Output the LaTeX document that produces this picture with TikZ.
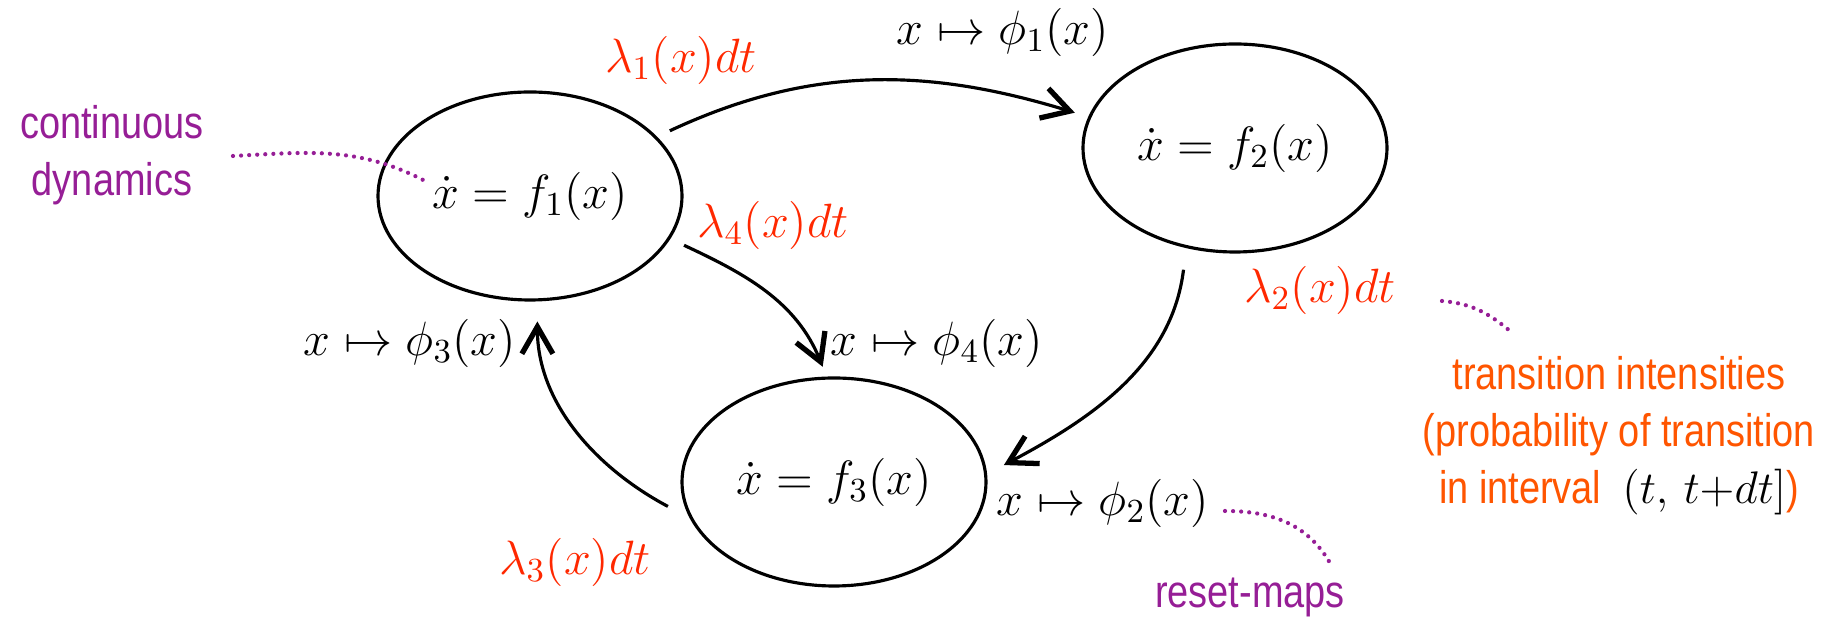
\RequirePackage{fix-cm}
\documentclass[tikz,border=0pt]{standalone}
\usepackage{fontspec}
\newfontfamily\notesans[FakeStretch=0.83]{Liberation Sans}
\usetikzlibrary{arrows.meta,shapes.geometric}
\definecolor{ratered}{RGB}{255,40,0}
\definecolor{noteorange}{RGB}{255,85,0}
\definecolor{notepurple}{RGB}{150,30,150}

\begin{document}
\begin{tikzpicture}[font=\fontsize{13.7}{16}\selectfont,
  mode/.style={draw,ellipse,line width=0.9pt,minimum width=3.04cm,minimum height=2.08cm,inner sep=0pt},
  trans/.style={line width=0.9pt,-{Straight Barb[length=2.7mm,width=3.1mm,line width=1.5pt]}},
  rate/.style={text=ratered},
  note/.style={font=\notesans\fontsize{13}{16.2}\selectfont,align=center},
  lead/.style={notepurple,line width=1.2pt,line cap=round,dash pattern=on 0pt off 2.3pt}]
\useasboundingbox (0,0) rectangle (18.35,6.21);
% the three modes
\node[mode] (e1) at (5.30,4.25) {$\dot x = f_1(x)$};
\node[mode] (e2) at (12.35,4.73) {$\dot x = f_2(x)$};
\node[mode] (e3) at (8.34,1.39) {$\dot x = f_3(x)$};
% jumps between modes
\draw[trans,shorten <=4pt,shorten >=4pt] (e1.25) to[out=25,in=163] (e2.168);
\draw[trans,shorten <=4.3pt,shorten >=3pt] (e1.-17) to[out=-25,in=112] (e3.94);
\draw[trans,shorten <=6.2pt,shorten >=5.4pt] (e2.-116) to[out=-97,in=28] (e3.3);
\draw[trans,shorten <=7pt,shorten >=5.7pt] (e3.194) to[out=152,in=-90] (e1.-86);
% reset maps and rates
\node (phi1) at (10.03,5.89) {$x\mapsto\phi_1(x)$};
\node (phi2) at (11.03,1.18) {$x\mapsto\phi_2(x)$};
\node (phi3) at (4.10,2.78) {$x\mapsto\phi_3(x)$};
\node (phi4) at (9.37,2.78) {$x\mapsto\phi_4(x)$};
\node[rate] (lam1) at (6.81,5.61) {$\lambda_1(x)dt$};
\node[rate] (lam2) at (13.20,3.31) {$\lambda_2(x)dt$};
\node[rate] (lam3) at (5.75,0.59) {$\lambda_3(x)dt$};
\node[rate] (lam4) at (7.73,3.96) {$\lambda_4(x)dt$};
% side notes
\node[note,text=notepurple] (dyn) at (1.12,4.66) {continuous\\dynamics};
\node[note,text=notepurple,anchor=base] (rst) at (12.50,0.13) {reset-maps};
\node[note,text=noteorange] (intens) at (16.19,1.855) {transition intensities\\(probability of transition\\in interval\ \ {\color{black}$(t,\,t{+}dt]$})};
\coordinate (dyn0) at (2.33,4.65);
\coordinate (dyn1) at (4.27,4.39);
\coordinate (rst0) at (12.25,1.10);
\coordinate (rst1) at (13.30,0.58);
\coordinate (lam0) at (14.42,3.20);
\coordinate (lamx) at (15.10,2.90);
\draw[lead] (dyn0) to[out=3,in=152] (dyn1);
\draw[lead] (rst0) to[out=0,in=120] (rst1);
\draw[lead] (lam0) to[out=-5,in=140] (lamx);
\end{tikzpicture}
\end{document}
